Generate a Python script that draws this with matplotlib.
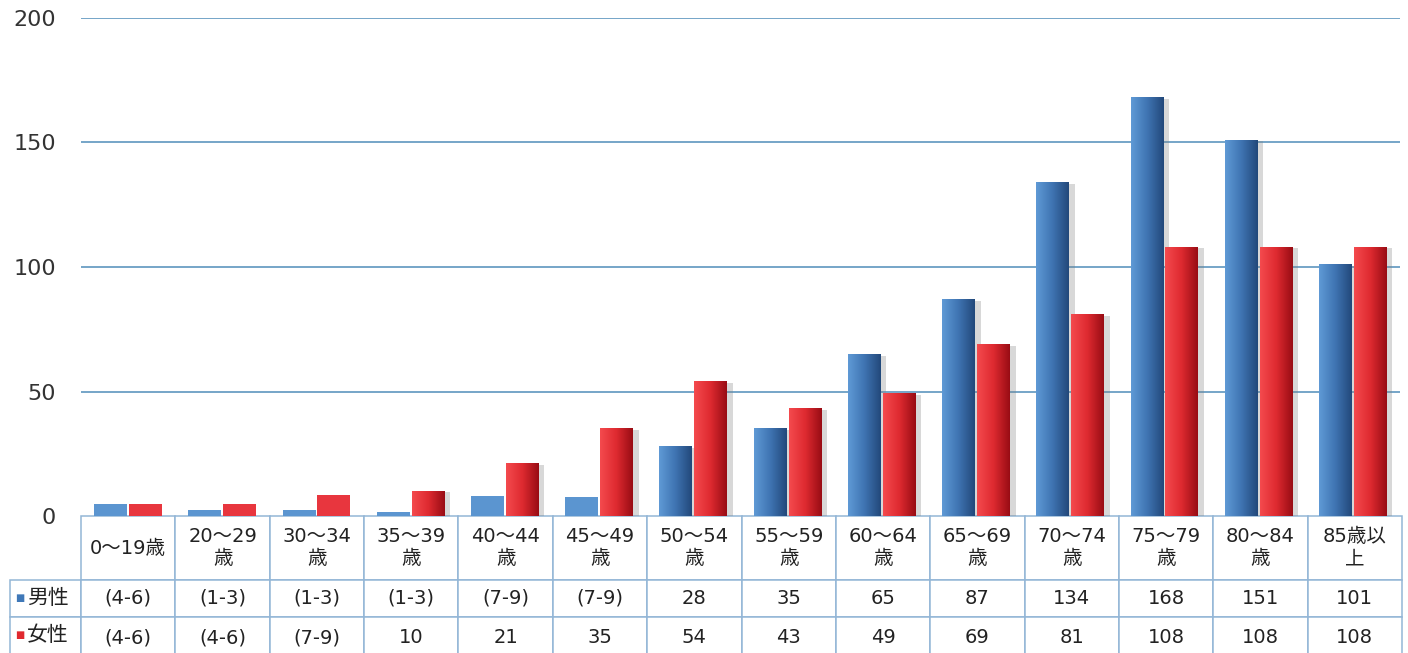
import numpy as np
import matplotlib
matplotlib.use("Agg")
import matplotlib.pyplot as plt
import matplotlib.patheffects as pe
from matplotlib.colors import LinearSegmentedColormap

plt.rcParams['font.family'] = ['DejaVu Sans', 'Noto Sans CJK JP']

# データ
categories = ['0～19歳', '20～29\n歳', '30～34\n歳', '35～39\n歳', '40～44\n歳', '45～49\n歳',
              '50～54\n歳', '55～59\n歳', '60～64\n歳', '65～69\n歳', '70～74\n歳',
              '75～79\n歳', '80～84\n歳', '85歳以\n上']
male = [5, 2.4, 2.4, 1.6, 8, 7.6, 28, 35, 65, 87, 134, 168, 151, 101]
female = [5, 4.8, 8.4, 10, 21, 35, 54, 43, 49, 69, 81, 108, 108, 108]
male_labels = ['(4-6)', '(1-3)', '(1-3)', '(1-3)', '(7-9)', '(7-9)', '28', '35', '65',
               '87', '134', '168', '151', '101']
female_labels = ['(4-6)', '(4-6)', '(7-9)', '10', '21', '35', '54', '43', '49', '69',
                 '81', '108', '108', '108']
male_masked = [True] * 6 + [False] * 8
female_masked = [True] * 3 + [False] * 11
yticks = [0, 50, 100, 150, 200]

blue_cmap = LinearSegmentedColormap.from_list('b', ['#5f9ad6', '#3f74b2', '#22487a'])
red_cmap = LinearSegmentedColormap.from_list('r', ['#f44a4e', '#de2a30', '#980c14'])
grad = np.linspace(0, 1, 256).reshape(1, -1)

fig = plt.figure(figsize=(14.08, 6.53), dpi=100)
ax = fig.add_axes([81 / 1408, 137 / 653, 1319 / 1408, 498 / 653])

x = np.arange(len(categories))
w = 0.35
off = 0.185

shadow = [pe.SimplePatchShadow(offset=(4, -1), shadow_rgbFace=(0.5, 0.5, 0.5), alpha=0.3),
          pe.Normal()]

def draw_bars(xpos, vals, masked, cmap, flat):
    bars = ax.bar(xpos, vals, width=w, color=flat, zorder=2)
    for b, m in zip(bars, masked):
        if m:
            continue
        b.set_path_effects(shadow)
        x0 = b.get_x()
        ax.imshow(grad, cmap=cmap, extent=(x0, x0 + b.get_width(), 0, b.get_height()),
                  aspect='auto', interpolation='bilinear', zorder=2.1)

draw_bars(x - off, male, male_masked, blue_cmap, '#5b95d0')
draw_bars(x + off, female, female_masked, red_cmap, '#e8363e')

ax.set_xlim(-0.5, len(categories) - 0.5)
ax.set_ylim(0, 200)
ax.set_yticks(yticks)
ax.set_xticks([])
for t in yticks[1:]:
    ax.axhline(t, color='#6a9ec4', lw=1.3, zorder=1)
for s in ax.spines.values():
    s.set_visible(False)
ax.tick_params(axis='y', length=0, pad=18, labelsize=16, labelcolor='#333333')

# データテーブル
cell_text = [[''] + male_labels, [''] + female_labels]
col_w = [71] + [94.3] * len(categories)
bottom = 658
tab = ax.table(cellText=cell_text, colLabels=[''] + categories, colWidths=col_w,
               cellLoc='center',
               bbox=[-71 / 1319, -(bottom - 516) / 498, 1392 / 1319, (bottom - 516) / 498])
tab.auto_set_font_size(False)
row_h = [64, 37, 41]
for (r, c), cell in tab.get_celld().items():
    cell.set_edgecolor('#93b6d6')
    cell.set_linewidth(1.1)
    cell.set_height(row_h[r])
    cell.get_text().set_fontsize(14)
    cell.get_text().set_color('#222222')
    if r == 0:
        cell.get_text().set_linespacing(1.2)
    if r == 0 and c == 0:
        cell.visible_edges = ''

for yy, name, col in [(598.5, '男性', '#3f78b8'), (635, '女性', '#e0282e')]:
    ya = -(yy - 516) / 498
    ax.text(-61 / 1319, ya, '■', transform=ax.transAxes, fontsize=7, color=col,
            ha='center', va='center')
    ax.text(-54 / 1319, ya, name, transform=ax.transAxes, fontsize=15, color='#222222',
            ha='left', va='center')

fig.savefig('out.png', dpi=100, facecolor='white')
